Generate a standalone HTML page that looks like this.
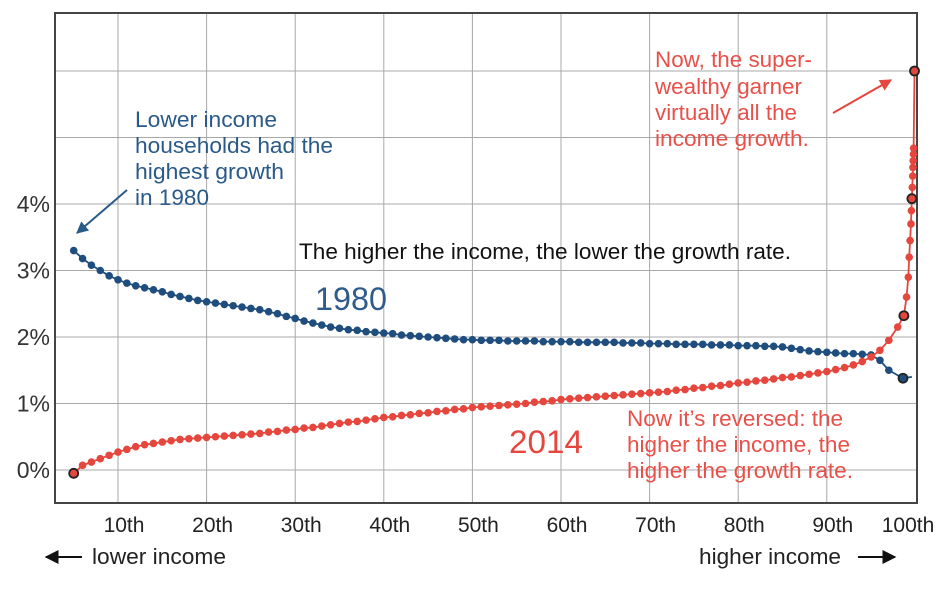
<!DOCTYPE html>
<html><head><meta charset="utf-8"><style>
body{margin:0;background:#fff;}
svg{display:block;font-family:"Liberation Sans",sans-serif;}
</style></head><body>
<svg id="chart" width="950" height="589" viewBox="0 0 950 589">
<defs>
<marker id="ab" viewBox="0 0 10 10" refX="9" refY="5" markerWidth="6" markerHeight="6" orient="auto"><path d="M0,0 L10,5 L0,10 z" fill="#2a5a8a"/></marker>
<marker id="ar" viewBox="0 0 10 10" refX="9" refY="5" markerWidth="6" markerHeight="6" orient="auto"><path d="M0,0 L10,5 L0,10 z" fill="#e5463d"/></marker>
<marker id="ak" viewBox="0 0 10 10" refX="9" refY="5" markerWidth="7" markerHeight="7" orient="auto"><path d="M0,0 L10,5 L0,10 z" fill="#111"/></marker>
</defs>
<g id="grid"></g>
<rect x="55" y="13" width="862" height="490" fill="none" stroke="#444" stroke-width="2"/>
<g id="ylabels"></g>
<g id="xlabels"></g>
<g id="series"></g>

<g fill="#2a5a8a" font-size="22">
<text x="135" y="127" textLength="142" lengthAdjust="spacingAndGlyphs">Lower income</text>
<text x="135" y="153" textLength="198" lengthAdjust="spacingAndGlyphs">households had the</text>
<text x="135" y="179" textLength="149" lengthAdjust="spacingAndGlyphs">highest growth</text>
<text x="135" y="205" textLength="74" lengthAdjust="spacingAndGlyphs">in 1980</text>
</g>
<line x1="127" y1="190" x2="77" y2="233" stroke="#2a5a8a" stroke-width="2" marker-end="url(#ab)"/>
<text x="299" y="259" font-size="22" fill="#111" textLength="492" lengthAdjust="spacingAndGlyphs">The higher the income, the lower the growth rate.</text>
<text x="315" y="310" font-size="32" fill="#2e5b8a" textLength="72" lengthAdjust="spacingAndGlyphs">1980</text>
<text x="509" y="453" font-size="32" fill="#e5463d" textLength="74" lengthAdjust="spacingAndGlyphs">2014</text>
<g fill="#e8504a" font-size="22">
<text x="655" y="67" textLength="157" lengthAdjust="spacingAndGlyphs">Now, the super-</text>
<text x="655" y="94" textLength="147" lengthAdjust="spacingAndGlyphs">wealthy garner</text>
<text x="655" y="120" textLength="142" lengthAdjust="spacingAndGlyphs">virtually all the</text>
<text x="655" y="146" textLength="154" lengthAdjust="spacingAndGlyphs">income growth.</text>
</g>
<line x1="833" y1="113" x2="891" y2="80" stroke="#e5463d" stroke-width="2" marker-end="url(#ar)"/>
<g fill="#e8504a" font-size="22">
<text x="627" y="426" textLength="216" lengthAdjust="spacingAndGlyphs">Now it’s reversed: the</text>
<text x="627" y="452" textLength="223" lengthAdjust="spacingAndGlyphs">higher the income, the</text>
<text x="627" y="478" textLength="226" lengthAdjust="spacingAndGlyphs">higher the growth rate.</text>
</g>
<line x1="82" y1="557" x2="46" y2="557" stroke="#111" stroke-width="2" marker-end="url(#ak)"/>
<text x="92" y="564" font-size="22" fill="#222" textLength="134" lengthAdjust="spacingAndGlyphs">lower income</text>
<text x="699" y="564" font-size="22" fill="#222" textLength="142" lengthAdjust="spacingAndGlyphs">higher income</text>
<line x1="858" y1="557" x2="895" y2="557" stroke="#111" stroke-width="2" marker-end="url(#ak)"/>
</svg>
<script>
const xTicks=[10,20,30,40,50,60,70,80,90,100];
const xTickLabels=["10th","20th","30th","40th","50th","60th","70th","80th","90th","100th"];
const yGrid=[0,1,2,3,4,5,6];
const yTickValues=[0,1,2,3,4];
const yTickLabels=["0%","1%","2%","3%","4%"];
const pct1980=[5,6,7,8,9,10,11,12,13,14,15,16,17,18,19,20,21,22,23,24,25,26,27,28,29,30,31,32,33,34,35,36,37,38,39,40,41,42,43,44,45,46,47,48,49,50,51,52,53,54,55,56,57,58,59,60,61,62,63,64,65,66,67,68,69,70,71,72,73,74,75,76,77,78,79,80,81,82,83,84,85,86,87,88,89,90,91,92,93,94,95,96,97,98.6,99.6];
const growth1980=[3.30,3.18,3.08,3.00,2.92,2.86,2.81,2.77,2.74,2.71,2.68,2.64,2.61,2.58,2.55,2.53,2.51,2.49,2.47,2.45,2.43,2.41,2.38,2.35,2.31,2.28,2.24,2.21,2.18,2.15,2.13,2.11,2.10,2.08,2.07,2.06,2.05,2.03,2.02,2.01,2.00,1.99,1.98,1.97,1.96,1.96,1.95,1.95,1.95,1.94,1.94,1.94,1.94,1.93,1.93,1.93,1.93,1.92,1.92,1.92,1.92,1.92,1.91,1.91,1.91,1.90,1.90,1.90,1.89,1.89,1.89,1.89,1.88,1.88,1.88,1.87,1.87,1.87,1.86,1.86,1.85,1.83,1.81,1.79,1.78,1.77,1.76,1.75,1.75,1.74,1.73,1.65,1.50,1.38,1.40];
const pct2014=[5,6,7,8,9,10,11,12,13,14,15,16,17,18,19,20,21,22,23,24,25,26,27,28,29,30,31,32,33,34,35,36,37,38,39,40,41,42,43,44,45,46,47,48,49,50,51,52,53,54,55,56,57,58,59,60,61,62,63,64,65,66,67,68,69,70,71,72,73,74,75,76,77,78,79,80,81,82,83,84,85,86,87,88,89,90,91,92,93,94,95,96,97,98,98.7,99.0,99.2,99.3,99.4,99.5,99.55,99.6,99.65,99.7,99.72,99.75,99.78,99.8,99.9];
const growth2014=[-0.05,0.07,0.12,0.17,0.22,0.27,0.31,0.35,0.38,0.40,0.42,0.44,0.46,0.47,0.48,0.49,0.50,0.51,0.52,0.53,0.54,0.55,0.57,0.58,0.60,0.61,0.63,0.64,0.66,0.68,0.70,0.72,0.73,0.75,0.77,0.79,0.80,0.82,0.83,0.85,0.86,0.88,0.89,0.91,0.92,0.94,0.95,0.96,0.97,0.98,0.99,1.00,1.02,1.03,1.04,1.06,1.07,1.08,1.09,1.10,1.11,1.12,1.13,1.14,1.15,1.16,1.17,1.18,1.20,1.21,1.23,1.24,1.26,1.27,1.29,1.31,1.32,1.34,1.35,1.37,1.39,1.40,1.42,1.44,1.46,1.48,1.51,1.54,1.58,1.63,1.70,1.80,1.95,2.15,2.32,2.60,2.90,3.20,3.45,3.70,3.90,4.08,4.25,4.42,4.55,4.65,4.75,4.84,6.00];
const marked1980=[98.6];
const marked2014=[5,98.7,99.6,99.9];
const noDot1980=[99.6];
const noDot2014=[99.9];

const NS="http://www.w3.org/2000/svg";
const x=p=>118+(p-10)*8.86;
const y=v=>470-v*66.5;
function mk(tag,attrs,parent){const e=document.createElementNS(NS,tag);for(const k in attrs)e.setAttribute(k,attrs[k]);parent.appendChild(e);return e;}
const grid=document.getElementById('grid');
xTicks.slice(0,9).forEach(t=>{const l=mk('line',{x1:x(t),x2:x(t),y1:13,y2:503,stroke:'#a8a8a8','stroke-width':1},grid);

});
yGrid.forEach(t=>{const l=mk('line',{x1:55,x2:917,y1:y(t),y2:y(t),stroke:'#a8a8a8','stroke-width':1},grid);

});
const yl=document.getElementById('ylabels');
yTickValues.forEach((t,i)=>{const e=mk('text',{x:50,y:y(t)+8,'text-anchor':'end','font-size':23,fill:'#333'},yl);e.textContent=yTickLabels[i];

});
const xl=document.getElementById('xlabels');
xTicks.forEach((t,i)=>{const px=i===9?908:x(t)+6;const e=mk('text',{x:px,y:532,'text-anchor':'middle','font-size':21,fill:'#222'},xl);e.textContent=xTickLabels[i];

});
const s=document.getElementById('series');
function drawSeries(px,vals,color,name,marked,noDot){
const g=mk('g',{},s);


const pl=mk('polyline',{points:px.map((p,i)=>x(p)+','+y(vals[i])).join(' '),fill:'none',stroke:color,'stroke-width':1.8},g);


px.forEach((p,i)=>{
 const isM=marked.includes(p);
 if(noDot.includes(p)&&!isM)return;
 const c=mk('circle',{cx:x(p),cy:y(vals[i]),r:isM?4.5:3.8,fill:color,stroke:isM?'#222':'none','stroke-width':isM?1.8:0},g);
 
 
});}
drawSeries(pct1980,growth1980,'#1f4e7e','series-1980',marked1980,noDot1980);
drawSeries(pct2014,growth2014,'#e5463d','series-2014',marked2014,noDot2014);
</script>
</body></html>
